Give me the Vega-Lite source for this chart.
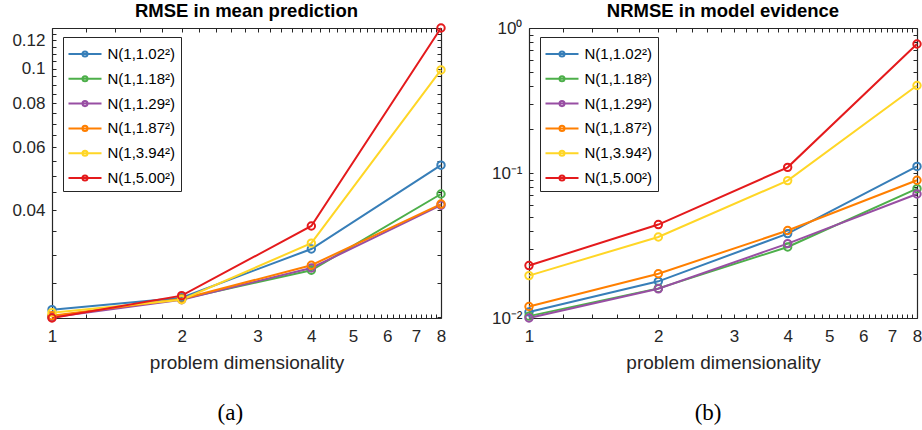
{
  "$schema": "https://vega.github.io/schema/vega-lite/v6.json",
  "background": "white",
  "padding": {"left": 11, "top": 1, "right": 0, "bottom": 0},
  "datasets": {
    "a": [
      {"d": 1, "s": "N(1,1.02²)", "v": 0.0210}, {"d": 2, "s": "N(1,1.02²)", "v": 0.0227}, {"d": 4, "s": "N(1,1.02²)", "v": 0.0311}, {"d": 8, "s": "N(1,1.02²)", "v": 0.0535},
      {"d": 1, "s": "N(1,1.18²)", "v": 0.0201}, {"d": 2, "s": "N(1,1.18²)", "v": 0.0225}, {"d": 4, "s": "N(1,1.18²)", "v": 0.0271}, {"d": 8, "s": "N(1,1.18²)", "v": 0.0444},
      {"d": 1, "s": "N(1,1.29²)", "v": 0.0200}, {"d": 2, "s": "N(1,1.29²)", "v": 0.0224}, {"d": 4, "s": "N(1,1.29²)", "v": 0.0275}, {"d": 8, "s": "N(1,1.29²)", "v": 0.0413},
      {"d": 1, "s": "N(1,1.87²)", "v": 0.0202}, {"d": 2, "s": "N(1,1.87²)", "v": 0.0225}, {"d": 4, "s": "N(1,1.87²)", "v": 0.0280}, {"d": 8, "s": "N(1,1.87²)", "v": 0.0416},
      {"d": 1, "s": "N(1,3.94²)", "v": 0.0206}, {"d": 2, "s": "N(1,3.94²)", "v": 0.0224}, {"d": 4, "s": "N(1,3.94²)", "v": 0.0323}, {"d": 8, "s": "N(1,3.94²)", "v": 0.0991},
      {"d": 1, "s": "N(1,5.00²)", "v": 0.0199}, {"d": 2, "s": "N(1,5.00²)", "v": 0.0230}, {"d": 4, "s": "N(1,5.00²)", "v": 0.0361}, {"d": 8, "s": "N(1,5.00²)", "v": 0.1300}
    ],
    "b": [
      {"d": 1, "s": "N(1,1.02²)", "v": 0.0110}, {"d": 2, "s": "N(1,1.02²)", "v": 0.0179}, {"d": 4, "s": "N(1,1.02²)", "v": 0.0382}, {"d": 8, "s": "N(1,1.02²)", "v": 0.111},
      {"d": 1, "s": "N(1,1.18²)", "v": 0.0103}, {"d": 2, "s": "N(1,1.18²)", "v": 0.0160}, {"d": 4, "s": "N(1,1.18²)", "v": 0.0309}, {"d": 8, "s": "N(1,1.18²)", "v": 0.078},
      {"d": 1, "s": "N(1,1.29²)", "v": 0.0100}, {"d": 2, "s": "N(1,1.29²)", "v": 0.0159}, {"d": 4, "s": "N(1,1.29²)", "v": 0.0326}, {"d": 8, "s": "N(1,1.29²)", "v": 0.0716},
      {"d": 1, "s": "N(1,1.87²)", "v": 0.0120}, {"d": 2, "s": "N(1,1.87²)", "v": 0.0202}, {"d": 4, "s": "N(1,1.87²)", "v": 0.0401}, {"d": 8, "s": "N(1,1.87²)", "v": 0.0891},
      {"d": 1, "s": "N(1,3.94²)", "v": 0.0196}, {"d": 2, "s": "N(1,3.94²)", "v": 0.0362}, {"d": 4, "s": "N(1,3.94²)", "v": 0.0886}, {"d": 8, "s": "N(1,3.94²)", "v": 0.401},
      {"d": 1, "s": "N(1,5.00²)", "v": 0.0230}, {"d": 2, "s": "N(1,5.00²)", "v": 0.0441}, {"d": 4, "s": "N(1,5.00²)", "v": 0.1094}, {"d": 8, "s": "N(1,5.00²)", "v": 0.776}
    ]
  },
  "spacing": 42,
  "resolve": {"scale": {"color": "independent"}, "legend": {"color": "independent"}},
  "hconcat": [
    {
      "title": {"text": "(a)", "orient": "bottom", "anchor": "middle", "font": "Liberation Serif", "fontSize": 23, "fontWeight": "normal", "color": "#000", "offset": 30},
      "vconcat": [
        {
          "title": {"text": "RMSE in mean prediction"},
          "width": 389,
          "height": 290,
          "data": {"name": "a"},
          "layer": [
            {
              "mark": {"type": "line", "strokeWidth": 2},
              "encoding": {
                "x": {"field": "d", "type": "quantitative", "scale": {"type": "log", "domain": [1, 8], "nice": false},
                  "axis": {"orient": "bottom", "title": "problem dimensionality", "values": [1,1.2,1.4,1.6,1.8,2,2.2,2.4,2.6,2.8,3,3.2,3.4,3.6,3.8,4,4.2,4.4,4.6,4.8,5,5.2,5.4,5.6,5.8,6,6.2,6.4,6.6,6.8,7,7.2,7.4,7.6,7.8,8],
                    "labelExpr": "datum.value % 1 == 0 ? '' + datum.value : ''", "tickSize": -4, "labelPadding": 14, "titlePadding": 9}},
                "y": {"field": "v", "type": "quantitative", "scale": {"type": "log", "domain": [0.0199, 0.13], "nice": false},
                  "axis": {"orient": "left", "title": null, "values": [0.02,0.025,0.03,0.035,0.04,0.045,0.05,0.055,0.06,0.065,0.07,0.075,0.08,0.085,0.09,0.095,0.1,0.105,0.11,0.115,0.12,0.125,0.13],
                    "labelExpr": "datum.value == 0.04 || datum.value == 0.06 || datum.value == 0.08 || datum.value == 0.1 || datum.value == 0.12 ? format(datum.value, '~g') : ''", "tickSize": -4, "labelPadding": 11}},
                "color": {"field": "s", "type": "nominal", "scale": {"domain": ["N(1,1.02²)","N(1,1.18²)","N(1,1.29²)","N(1,1.87²)","N(1,3.94²)","N(1,5.00²)"], "range": ["#377eb8","#4daf4a","#984ea3","#ff7f00","#ffd626","#e41a1c"]}}
              }
            },
            {
              "mark": {"type": "point", "shape": "circle", "filled": false, "size": 55, "strokeWidth": 2, "opacity": 1},
              "encoding": {
                "x": {"field": "d", "type": "quantitative", "scale": {"type": "log", "domain": [1, 8], "nice": false},
                  "axis": {"orient": "top", "title": null, "labels": false, "values": [1,1.2,1.4,1.6,1.8,2,2.2,2.4,2.6,2.8,3,3.2,3.4,3.6,3.8,4,4.2,4.4,4.6,4.8,5,5.2,5.4,5.6,5.8,6,6.2,6.4,6.6,6.8,7,7.2,7.4,7.6,7.8,8], "tickSize": -4}},
                "y": {"field": "v", "type": "quantitative", "scale": {"type": "log", "domain": [0.0199, 0.13], "nice": false},
                  "axis": {"orient": "right", "title": null, "labels": false, "values": [0.02,0.025,0.03,0.035,0.04,0.045,0.05,0.055,0.06,0.065,0.07,0.075,0.08,0.085,0.09,0.095,0.1,0.105,0.11,0.115,0.12,0.125,0.13], "tickSize": -4}},
                "color": {"field": "s", "type": "nominal"}
              }
            }
          ],
          "resolve": {"axis": {"x": "independent", "y": "independent"}}
        }
      ]
    },
    {
      "title": {"text": "(b)", "orient": "bottom", "anchor": "middle", "font": "Liberation Serif", "fontSize": 23, "fontWeight": "normal", "color": "#000", "offset": 30},
      "vconcat": [
        {
          "title": {"text": "NRMSE in model evidence"},
          "width": 388,
          "height": 290,
          "data": {"name": "b"},
          "layer": [
            {
              "mark": {"type": "line", "strokeWidth": 2},
              "encoding": {
                "x": {"field": "d", "type": "quantitative", "scale": {"type": "log", "domain": [1, 8], "nice": false},
                  "axis": {"orient": "bottom", "title": "problem dimensionality", "values": [1,1.2,1.4,1.6,1.8,2,2.2,2.4,2.6,2.8,3,3.2,3.4,3.6,3.8,4,4.2,4.4,4.6,4.8,5,5.2,5.4,5.6,5.8,6,6.2,6.4,6.6,6.8,7,7.2,7.4,7.6,7.8,8],
                    "labelExpr": "datum.value % 1 == 0 ? '' + datum.value : ''", "tickSize": -4, "labelPadding": 14, "titlePadding": 9}},
                "y": {"field": "v", "type": "quantitative", "scale": {"type": "log", "domain": [0.01, 1], "nice": false},
                  "axis": {"orient": "left", "title": null, "values": [0.01,0.02,0.03,0.04,0.05,0.06,0.07,0.08,0.09,0.1,0.2,0.3,0.4,0.5,0.6,0.7,0.8,0.9,1],
                    "labelExpr": "datum.value == 1 ? '10⁰' : datum.value == 0.1 ? '10⁻¹' : datum.value == 0.01 ? '10⁻²' : ''", "tickSize": -4, "labelPadding": 11}},
                "color": {"field": "s", "type": "nominal", "scale": {"domain": ["N(1,1.02²)","N(1,1.18²)","N(1,1.29²)","N(1,1.87²)","N(1,3.94²)","N(1,5.00²)"], "range": ["#377eb8","#4daf4a","#984ea3","#ff7f00","#ffd626","#e41a1c"]}}
              }
            },
            {
              "mark": {"type": "point", "shape": "circle", "filled": false, "size": 55, "strokeWidth": 2, "opacity": 1},
              "encoding": {
                "x": {"field": "d", "type": "quantitative", "scale": {"type": "log", "domain": [1, 8], "nice": false},
                  "axis": {"orient": "top", "title": null, "labels": false, "values": [1,1.2,1.4,1.6,1.8,2,2.2,2.4,2.6,2.8,3,3.2,3.4,3.6,3.8,4,4.2,4.4,4.6,4.8,5,5.2,5.4,5.6,5.8,6,6.2,6.4,6.6,6.8,7,7.2,7.4,7.6,7.8,8], "tickSize": -4}},
                "y": {"field": "v", "type": "quantitative", "scale": {"type": "log", "domain": [0.01, 1], "nice": false},
                  "axis": {"orient": "right", "title": null, "labels": false, "values": [0.01,0.02,0.03,0.04,0.05,0.06,0.07,0.08,0.09,0.1,0.2,0.3,0.4,0.5,0.6,0.7,0.8,0.9,1], "tickSize": -4}},
                "color": {"field": "s", "type": "nominal"}
              }
            }
          ],
          "resolve": {"axis": {"x": "independent", "y": "independent"}}
        }
      ]
    }
  ],
  "config": {
    "font": "Liberation Sans",
    "view": {"stroke": null},
    "axis": {"labelFont": "Liberation Sans", "labelFontSize": 17, "labelColor": "#262626", "titleFont": "Liberation Sans", "titleFontSize": 19, "titleFontWeight": "normal", "titleColor": "#262626", "domainColor": "#262626", "domainWidth": 1.2, "tickColor": "#262626", "tickWidth": 1, "grid": false, "labelOverlap": false, "labelBound": false, "labelFlush": false},
    "title": {"font": "Liberation Sans", "fontSize": 18.5, "fontWeight": "bold", "color": "#000", "offset": -1},
    "legend": {"orient": "none", "legendX": 11, "legendY": 9, "title": null, "strokeColor": "#262626", "fillColor": "white", "padding": 5, "labelFont": "Liberation Sans", "labelFontSize": 15, "labelColor": "#000", "symbolType": "M-1.5,0H1.5M-0.23,0A0.23,0.23,0,1,1,0.23,0A0.23,0.23,0,1,1,-0.23,0", "symbolSize": 484, "symbolStrokeWidth": 2, "symbolFillColor": "transparent", "symbolOffset": 5, "labelOffset": 10.5, "rowPadding": 4.8}
  }
}
